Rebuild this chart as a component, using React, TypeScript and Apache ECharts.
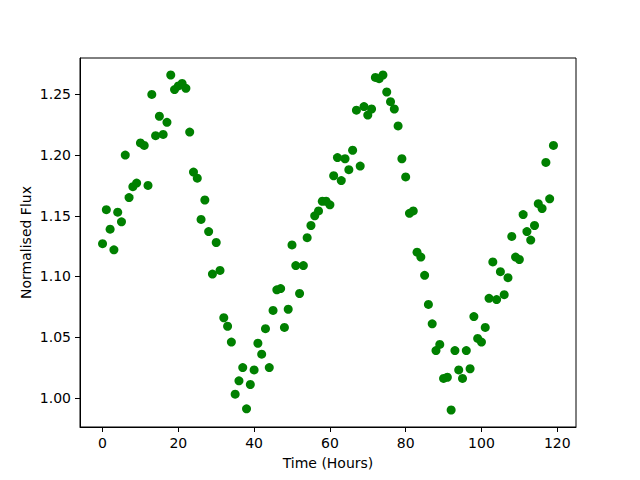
import React, { useEffect, useRef } from "react";
import * as echarts from "echarts";

const hours: number[] = Array.from({ length: 120 }, (_, i) => i);

const flux: number[] = [
  1.127, 1.155, 1.139, 1.122, 1.153, 1.145, 1.2, 1.165, 1.174, 1.177,
  1.21, 1.208, 1.175, 1.25, 1.216, 1.232, 1.217, 1.227, 1.266, 1.254,
  1.257, 1.259, 1.255, 1.219, 1.186, 1.181, 1.147, 1.163, 1.137, 1.102,
  1.128, 1.105, 1.066, 1.059, 1.046, 1.003, 1.014, 1.025, 0.991, 1.011,
  1.023, 1.045, 1.036, 1.057, 1.025, 1.072, 1.089, 1.09, 1.058, 1.073,
  1.126, 1.109, 1.086, 1.109, 1.132, 1.142, 1.15, 1.154, 1.162, 1.162,
  1.159, 1.183, 1.198, 1.179, 1.197, 1.188, 1.204, 1.237, 1.191, 1.24,
  1.233, 1.238, 1.264, 1.263, 1.266, 1.252, 1.244, 1.238, 1.224, 1.197,
  1.182, 1.152, 1.154, 1.12, 1.116, 1.101, 1.077, 1.061, 1.039, 1.044,
  1.016, 1.017, 0.99, 1.039, 1.023, 1.016, 1.039, 1.024, 1.067, 1.049,
  1.046, 1.058, 1.082, 1.112, 1.081, 1.104, 1.085, 1.099, 1.133, 1.116,
  1.114, 1.151, 1.137, 1.13, 1.142, 1.16, 1.156, 1.194, 1.164, 1.208,
];

const xTicks: number[] = [0, 20, 40, 60, 80, 100, 120];
const yTicks: number[] = [1.0, 1.05, 1.1, 1.15, 1.2, 1.25];

const FONT = "DejaVu Sans";

export default function App() {
  const ref = useRef<HTMLDivElement>(null);
  useEffect(() => {
    if (!ref.current) return;
    const chart = echarts.init(ref.current, null, { renderer: "svg" });
    const data = hours.map((h, i) => [h, flux[i]]);
    chart.setOption({
      animation: false,
      backgroundColor: "#ffffff",
      grid: {
        left: 80,
        right: 64,
        top: 58,
        bottom: 53,
        show: true,
        borderColor: "#000000",
        borderWidth: 1,
        backgroundColor: "transparent",
      },
      xAxis: {
        type: "value",
        min: -5.95,
        max: 124.95,
        name: "Time (Hours)",
        nameLocation: "middle",
        nameGap: 29,
        nameMoveOverlap: false,
        nameTextStyle: { fontFamily: FONT, fontSize: 14, color: "#000" },
        axisLine: { show: true, onZero: false, lineStyle: { color: "#000", width: 1 } },
        axisTick: {
          show: true,
          inside: false,
          length: 5,
          customValues: xTicks,
          lineStyle: { color: "#000" },
        },
        axisLabel: {
          customValues: xTicks,
          margin: 9,
          fontFamily: FONT,
          fontSize: 14,
          color: "#000",
          formatter: (v: number) => String(Math.round(v)),
        },
        splitLine: { show: false },
      },
      yAxis: {
        type: "value",
        min: 0.976,
        max: 1.28,
        name: "Normalised Flux",
        nameLocation: "middle",
        nameGap: 47,
        nameMoveOverlap: false,
        nameRotate: 90,
        nameTextStyle: { fontFamily: FONT, fontSize: 14, color: "#000" },
        axisLine: { show: true, onZero: false, lineStyle: { color: "#000", width: 1 } },
        axisTick: {
          show: true,
          inside: false,
          length: 5,
          customValues: yTicks,
          lineStyle: { color: "#000" },
        },
        axisLabel: {
          customValues: yTicks,
          margin: 9,
          fontFamily: FONT,
          fontSize: 14,
          color: "#000",
          formatter: (v: number) => v.toFixed(2),
        },
        splitLine: { show: false },
      },
      series: [
        {
          type: "scatter",
          data,
          symbol: "circle",
          symbolSize: 9,
          itemStyle: { color: "#008000", opacity: 1 },
          emphasis: { disabled: true },
        },
      ],
    });
    return () => chart.dispose();
  }, []);
  return <div ref={ref} style={{ width: 640, height: 480 }} />;
}

if (typeof document !== "undefined") {
  document.body.style.margin = "0";
}
